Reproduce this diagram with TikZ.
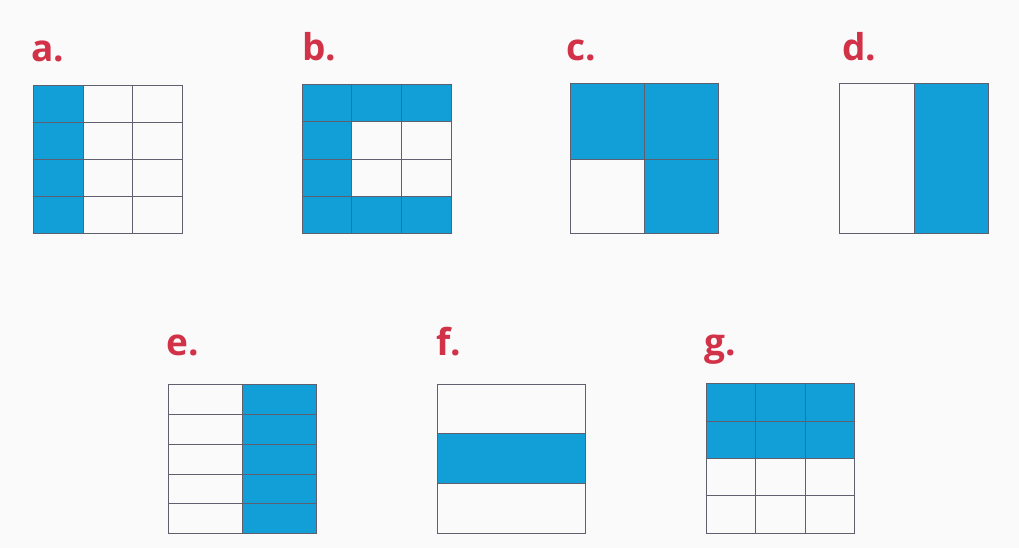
\documentclass[tikz,border=0pt]{standalone}
\usepackage{fontspec}
\setmainfont{Open Sans}
\definecolor{fillblue}{RGB}{18,158,214}
\definecolor{labred}{RGB}{210,50,72}
\definecolor{gridline}{RGB}{95,95,110}
\definecolor{paper}{RGB}{250,250,250}
\tikzset{
  cell/.style={fill=fillblue},
  gridpen/.style={draw=gridline, line width=0.9pt},
  lab/.style={anchor=base west, inner sep=0pt, text=labred, font=\bfseries\fontsize{37}{37}\selectfont}
}
\begin{document}
\begin{tikzpicture}[x=1pt,y=-1pt]
\useasboundingbox[fill=paper] (0,0) rectangle (1019,548);
% a
\node[lab] (la) at (31,62) {a.};
\fill[cell] (33,85) rectangle (83,233);
\draw[gridpen] (33,85) rectangle (182,233);
\draw[gridpen] (83,85) -- (83,233) (132,85) -- (132,233)
  (33,122) -- (182,122) (33,159) -- (182,159) (33,196) -- (182,196);
% b
\node[lab] (lb) at (302,61) {b.};
\fill[cell] (302,84) rectangle (451,121);
\fill[cell] (302,196) rectangle (451,233);
\fill[cell] (302,121) rectangle (351,196);
\draw[gridpen] (302,84) rectangle (451,233);
\draw[gridpen] (351,84) -- (351,233) (401,84) -- (401,233)
  (302,121) -- (451,121) (302,159) -- (451,159) (302,196) -- (451,196);
% c
\node[lab] (lc) at (566,61) {c.};
\fill[cell] (570,83) rectangle (718,159);
\fill[cell] (644,159) rectangle (718,233);
\draw[gridpen] (570,83) rectangle (718,233);
\draw[gridpen] (644,83) -- (644,233) (570,159) -- (718,159);
% d
\node[lab] (ld) at (842,61) {d.};
\fill[cell] (914,83) rectangle (988,233);
\draw[gridpen] (839,83) rectangle (988,233);
\draw[gridpen] (914,83) -- (914,233);
% e
\node[lab] (le) at (166,355) {e.};
\fill[cell] (242,384) rectangle (316,533);
\draw[gridpen] (168,384) rectangle (316,533);
\draw[gridpen] (242,384) -- (242,533)
  (168,414) -- (316,414) (168,444) -- (316,444) (168,474) -- (316,474) (168,503) -- (316,503);
% f
\node[lab] (lf) at (436,355) {f.};
\fill[cell] (437,433) rectangle (585,483);
\draw[gridpen] (437,384) rectangle (585,533);
\draw[gridpen] (437,433) -- (585,433) (437,483) -- (585,483);
% g
\node[lab] (lg) at (704,355) {g.};
\fill[cell] (706,383) rectangle (854,458);
\draw[gridpen] (706,383) rectangle (854,533);
\draw[gridpen] (755,383) -- (755,533) (805,383) -- (805,533)
  (706,421) -- (854,421) (706,458) -- (854,458) (706,495) -- (854,495);
\end{tikzpicture}
\end{document}
